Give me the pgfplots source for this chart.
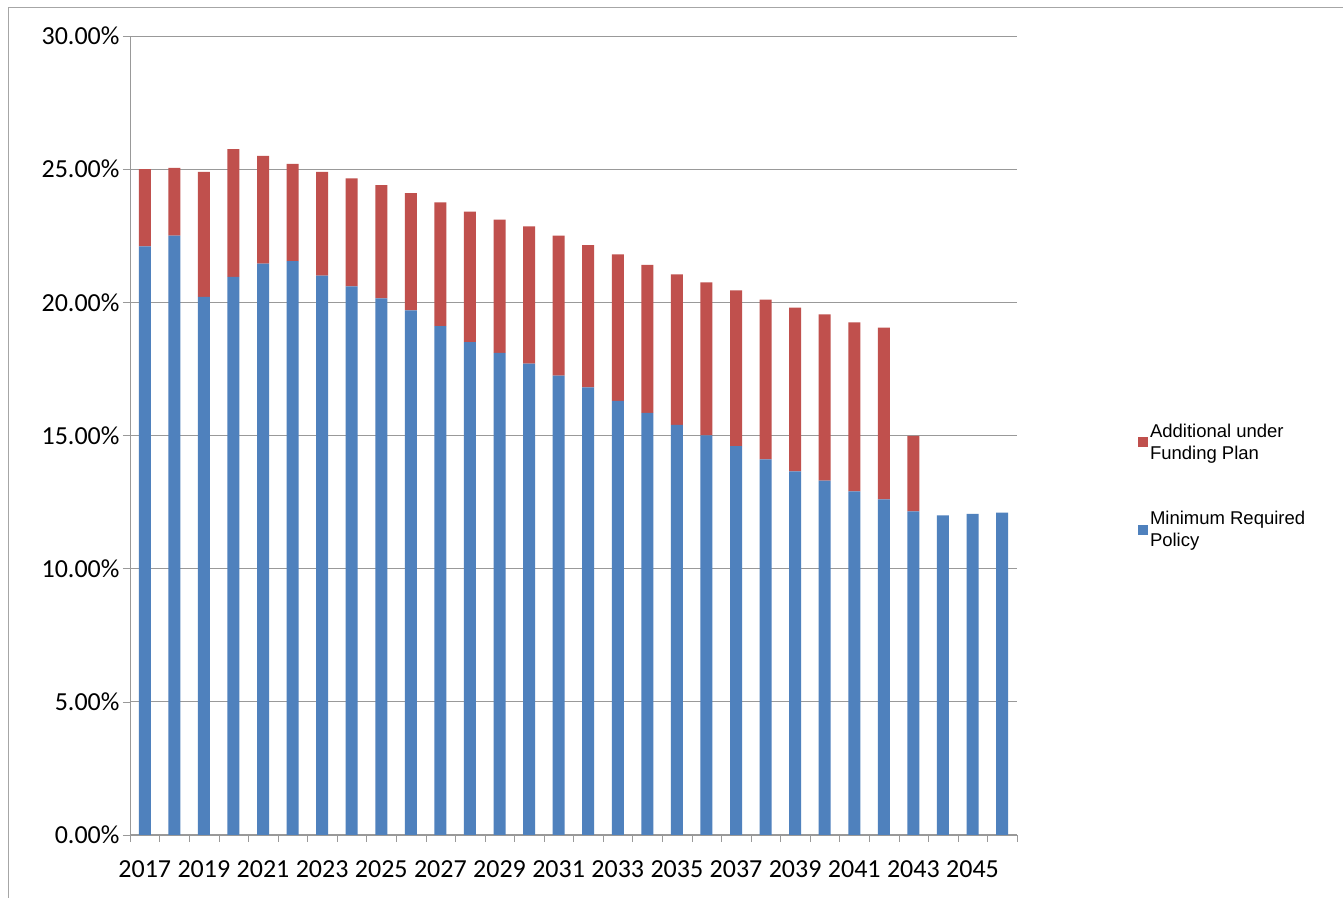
\documentclass[border=0pt]{standalone}
\usepackage{pgfplots}
\pgfplotsset{compat=1.18}
\usepackage{fontspec}
\setmainfont{Carlito}
\newfontfamily\arial{Liberation Sans}
\definecolor{cblue}{HTML}{4F81BD}
\definecolor{cred}{HTML}{C0504D}
\begin{document}
\begin{tikzpicture}
\path[fill=white] (0pt,0pt) rectangle (1343pt,898pt);
\draw[gray!70] (8pt,0pt) -- (8pt,891pt) -- (1343pt,891pt);
\begin{axis}[at={(130pt,63pt)},anchor=south west,scale only axis,width=887pt,height=799pt,
 ybar stacked,bar width=12pt,
 xmin=2016.5,xmax=2046.5,ymin=0,ymax=30,
 xtick={2017,2019,...,2045},major x tick style={draw=none},
 xticklabel style={/pgf/number format/set thousands separator={}},
 minor xtick={2016.5,2017.5,...,2046.5},minor tick length=7pt,
 x tick label style={font=\fontsize{26}{30}\selectfont,yshift=-15pt},
 ytick={0,5,...,30},
 yticklabel={\pgfmathprintnumber[fixed,fixed zerofill,precision=2]{\tick}\%},
 y tick label style={font=\fontsize{26}{30}\selectfont},
 /pgf/number format/assume math mode=true,
 tick align=outside,major tick length=7pt,
 ymajorgrids,grid style={gray!80,line width=0.8pt},
 axis line style={gray!80},axis x line*=bottom,axis y line*=left,
 tick style={gray!80},
 legend style={at={(1.133,0.52)},anchor=north west,draw=none,
   font=\arial\fontsize{18.5}{22}\selectfont,cells={anchor=west,align=left},row sep=47pt},
 legend image code/.code={\fill[#1] (0pt,-5pt) rectangle (10pt,5pt);},
 reverse legend,
]
\addplot[fill=cblue,draw=none] coordinates {
(2017,22.1)(2018,22.5)(2019,20.2)(2020,20.95)(2021,21.45)(2022,21.55)(2023,21.0)(2024,20.6)(2025,20.15)(2026,19.7)
(2027,19.1)(2028,18.5)(2029,18.1)(2030,17.7)(2031,17.25)(2032,16.8)(2033,16.3)(2034,15.85)(2035,15.4)(2036,15.0)
(2037,14.6)(2038,14.1)(2039,13.65)(2040,13.3)(2041,12.9)(2042,12.6)(2043,12.15)(2044,12.0)(2045,12.05)(2046,12.1)};
\addlegendentry{Minimum Required\\Policy}
\addplot[fill=cred,draw=none] coordinates {
(2017,2.9)(2018,2.55)(2019,4.7)(2020,4.8)(2021,4.05)(2022,3.65)(2023,3.9)(2024,4.05)(2025,4.25)(2026,4.4)
(2027,4.65)(2028,4.9)(2029,5.0)(2030,5.15)(2031,5.25)(2032,5.35)(2033,5.5)(2034,5.55)(2035,5.65)(2036,5.75)
(2037,5.85)(2038,6.0)(2039,6.15)(2040,6.25)(2041,6.35)(2042,6.45)(2043,2.83)(2044,0)(2045,0)(2046,0)};
\addlegendentry{Additional under\\Funding Plan}
\end{axis}
\end{tikzpicture}
\end{document}
